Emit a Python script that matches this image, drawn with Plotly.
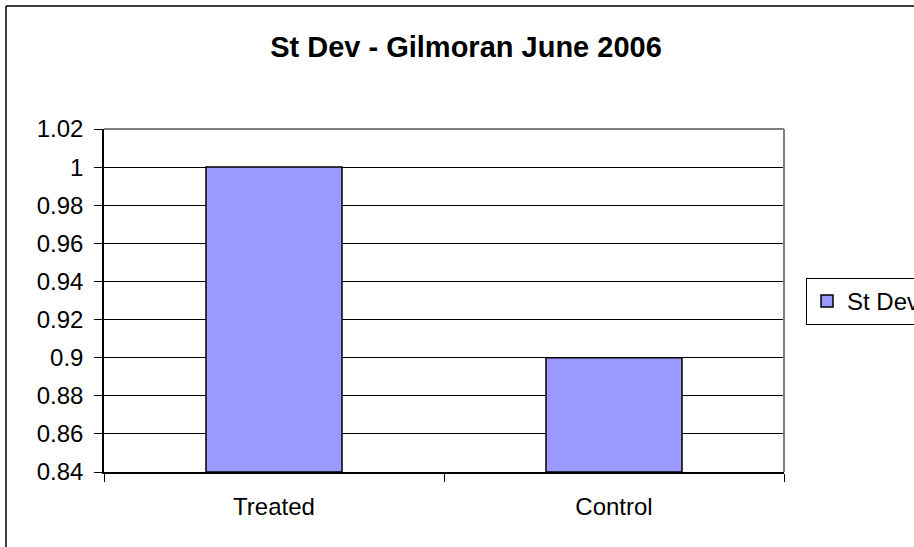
import plotly.graph_objects as go

categories = ["Treated", "Control"]
st_dev = [1.0, 0.9]
y_ticks = [0.84, 0.86, 0.88, 0.90, 0.92, 0.94, 0.96, 0.98, 1.00, 1.02]
y_tick_text = ["0.84", "0.86", "0.88", "0.9", "0.92", "0.94", "0.96", "0.98", "1", "1.02"]
y_min, y_max = 0.84, 1.02

W, H = 914, 547
L, R, T, B = 104, 784, 129, 472
pw, ph = R - L, B - T


def px(x):
    return (x - L) / pw


def py(y):
    return (B - y) / ph


fig = go.Figure()
fig.add_trace(go.Bar(
    x=categories, y=[v - y_min for v in st_dev], base=y_min, name="St Dev", width=0.4,
    marker=dict(color="#9999FF", line=dict(color="black", width=1.5)),
    hovertext=[str(v) for v in st_dev],
))

fig.update_layout(
    width=W, height=H,
    margin=dict(l=L, r=W - R, t=T, b=H - B, autoexpand=False),
    paper_bgcolor="white", plot_bgcolor="white",
    font=dict(family="Liberation Sans, Arial, sans-serif", size=24, color="black"),
    title=dict(text="<b>St Dev - Gilmoran June 2006</b>", x=466 / W, xanchor="center",
               y=1 - 47 / H, yanchor="middle", font=dict(size=29)),
    showlegend=True,
    legend=dict(xref="container", yref="container", x=806 / W, y=1 - 278 / H,
                xanchor="left", yanchor="top",
                bordercolor="black", borderwidth=1, bgcolor="white",
                font=dict(size=24), itemwidth=30),
)
fig.update_xaxes(
    showline=True, linecolor="black", linewidth=1.5,
    ticks="outside", tickson="boundaries", ticklen=8, tickcolor="black", tickwidth=1,
    showgrid=False, ticklabelstandoff=12,
)
fig.update_yaxes(
    range=[y_min, y_max], tickvals=y_ticks, ticktext=y_tick_text,
    showline=True, linecolor="black", linewidth=1.5,
    ticks="outside", ticklen=8, tickcolor="black", tickwidth=1,
    showgrid=True, gridcolor="black", gridwidth=1, zeroline=False,
    ticklabelstandoff=6,
)

# plot area border (grey top/right)
fig.add_shape(type="line", xref="paper", yref="paper", x0=0, x1=1, y0=1, y1=1,
              line=dict(color="#808080", width=2), layer="above")
fig.add_shape(type="line", xref="paper", yref="paper", x0=1, x1=1, y0=0, y1=1,
              line=dict(color="#808080", width=2), layer="above")
# outer chart border (left and top visible)
fig.add_shape(type="line", xref="paper", yref="paper", x0=px(6), x1=px(6), y0=py(560), y1=py(6),
              line=dict(color="black", width=1.5), layer="above")
fig.add_shape(type="line", xref="paper", yref="paper", x0=px(6), x1=px(930), y0=py(6), y1=py(6),
              line=dict(color="black", width=1.5), layer="above")

fig.write_html("out.html", config={"displayModeBar": False},
               post_script="document.body.style.margin='0px';document.body.style.overflow='hidden';")
